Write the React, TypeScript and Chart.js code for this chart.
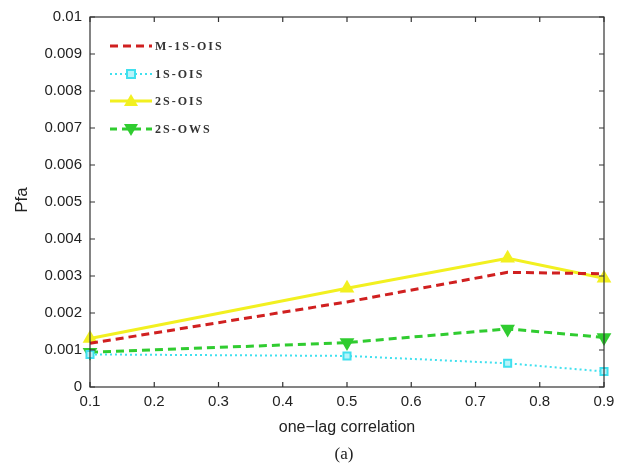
import React, { useEffect, useRef } from "react";
import { Chart, registerables } from "chart.js";

Chart.register(...registerables);

const xValues = [0.1, 0.5, 0.75, 0.9];
const m1sOis = [0.00118, 0.0023, 0.0031, 0.00306];
const s1Ois = [0.00088, 0.00084, 0.00064, 0.00042];
const s2Ois = [0.00131, 0.00267, 0.00348, 0.00294];
const s2Ows = [0.00094, 0.0012, 0.00157, 0.00134];

const xTicks = [0.1, 0.2, 0.3, 0.4, 0.5, 0.6, 0.7, 0.8, 0.9];
const xTickLabels = ["0.1", "0.2", "0.3", "0.4", "0.5", "0.6", "0.7", "0.8", "0.9"];
const yTicks = [0, 0.001, 0.002, 0.003, 0.004, 0.005, 0.006, 0.007, 0.008, 0.009, 0.01];
const yTickLabels = ["0", "0.001", "0.002", "0.003", "0.004", "0.005", "0.006", "0.007", "0.008", "0.009", "0.01"];

const seriesNames = ["M-1S-OIS", "1S-OIS", "2S-OIS", "2S-OWS"];
const xTitle = "one\u2212lag correlation";
const yTitle = "Pfa";
const caption = "(a)";

const RED = "#d02020";
const CYAN = "#40e0ee";
const YELLOW = "#f2f020";
const GREEN = "#30cc30";

const SANS = "'Liberation Sans', Arial, sans-serif";
const SERIF = "'Liberation Serif', 'Times New Roman', serif";

function drawMarker(ctx: CanvasRenderingContext2D, kind: string, x: number, y: number) {
  ctx.save();
  ctx.setLineDash([]);
  if (kind === "square") {
    ctx.fillStyle = "#b8f4fa";
    ctx.strokeStyle = CYAN;
    ctx.lineWidth = 2;
    ctx.fillRect(x - 4, y - 4, 8, 8);
    ctx.strokeRect(x - 4, y - 4, 8, 8);
  } else if (kind === "up") {
    ctx.fillStyle = YELLOW;
    ctx.beginPath();
    ctx.moveTo(x, y - 7);
    ctx.lineTo(x + 7, y + 5);
    ctx.lineTo(x - 7, y + 5);
    ctx.closePath();
    ctx.fill();
  } else if (kind === "down") {
    ctx.fillStyle = GREEN;
    ctx.beginPath();
    ctx.moveTo(x, y + 7);
    ctx.lineTo(x + 7, y - 5);
    ctx.lineTo(x - 7, y - 5);
    ctx.closePath();
    ctx.fill();
  }
  ctx.restore();
}

const decorPlugin = {
  id: "decor",
  afterDraw(chart: any) {
    const ctx: CanvasRenderingContext2D = chart.ctx;
    const a = chart.chartArea;
    const xs = chart.scales.x;
    const ys = chart.scales.y;
    ctx.save();
    ctx.strokeStyle = "#333";
    ctx.lineWidth = 1.2;
    ctx.setLineDash([]);
    ctx.strokeRect(a.left, a.top, a.right - a.left, a.bottom - a.top);
    ctx.beginPath();
    const tl = 5;
    xTicks.forEach((v) => {
      const px = xs.getPixelForValue(v);
      ctx.moveTo(px, a.bottom);
      ctx.lineTo(px, a.bottom - tl);
      ctx.moveTo(px, a.top);
      ctx.lineTo(px, a.top + tl);
    });
    yTicks.forEach((v) => {
      const py = ys.getPixelForValue(v);
      ctx.moveTo(a.left, py);
      ctx.lineTo(a.left + tl, py);
      ctx.moveTo(a.right, py);
      ctx.lineTo(a.right - tl, py);
    });
    ctx.stroke();

    ctx.fillStyle = "#222";
    ctx.font = `16px ${SANS}`;
    ctx.textAlign = "center";
    ctx.textBaseline = "middle";
    ctx.fillText(xTitle, (a.left + a.right) / 2, 428);
    ctx.save();
    ctx.translate(22, 200);
    ctx.rotate(-Math.PI / 2);
    ctx.font = `17px ${SANS}`;
    ctx.fillText(yTitle, 0, 0);
    ctx.restore();
    ctx.font = `17px ${SERIF}`;
    ctx.fillText(caption, 344, 455);

    const rows = [
      { y: 46, color: RED, dash: [8, 5], width: 3, marker: "" },
      { y: 74, color: CYAN, dash: [2, 3], width: 2, marker: "square" },
      { y: 101, color: YELLOW, dash: [], width: 3, marker: "up" },
      { y: 129, color: GREEN, dash: [7, 5], width: 3, marker: "down" },
    ];
    rows.forEach((r, i) => {
      ctx.save();
      ctx.strokeStyle = r.color;
      ctx.lineWidth = r.width;
      ctx.setLineDash(r.dash);
      ctx.beginPath();
      ctx.moveTo(110, r.y);
      ctx.lineTo(152, r.y);
      ctx.stroke();
      if (r.marker) drawMarker(ctx, r.marker, 131, r.y);
      ctx.restore();
      ctx.save();
      ctx.fillStyle = "#333";
      ctx.font = `bold 12px ${SERIF}`;
      (ctx as any).letterSpacing = "2px";
      ctx.textAlign = "left";
      ctx.textBaseline = "middle";
      ctx.fillText(seriesNames[i], 155, r.y + 1);
      ctx.restore();
    });
    ctx.restore();
  },
};

export default function App() {
  const ref = useRef<HTMLCanvasElement | null>(null);
  useEffect(() => {
    if (!ref.current) return;
    const mk = (arr: number[]) => xValues.map((x, i) => ({ x, y: arr[i] }));
    const chart = new Chart(ref.current, {
      type: "line",
      data: {
        datasets: [
          {
            label: seriesNames[0],
            data: mk(m1sOis),
            borderColor: RED,
            borderWidth: 3,
            borderDash: [8, 5],
            pointRadius: 0,
            fill: false,
            clip: false,
          },
          {
            label: seriesNames[1],
            data: mk(s1Ois),
            borderColor: CYAN,
            borderWidth: 2,
            borderDash: [2, 3],
            pointStyle: "rect",
            pointRadius: 5,
            pointBorderWidth: 2,
            pointBorderColor: CYAN,
            pointBackgroundColor: "#b8f4fa",
            fill: false,
            clip: false,
          },
          {
            label: seriesNames[2],
            data: mk(s2Ois),
            borderColor: YELLOW,
            borderWidth: 3,
            pointStyle: "triangle",
            pointRadius: 8.5,
            pointBorderWidth: 0,
            pointBackgroundColor: YELLOW,
            pointBorderColor: YELLOW,
            fill: false,
            clip: false,
          },
          {
            label: seriesNames[3],
            data: mk(s2Ows),
            borderColor: GREEN,
            borderWidth: 3,
            borderDash: [8, 5],
            pointStyle: "triangle",
            rotation: 180,
            pointRadius: 8.5,
            pointBorderWidth: 0,
            pointBackgroundColor: GREEN,
            pointBorderColor: GREEN,
            fill: false,
            clip: false,
          },
        ],
      },
      options: {
        responsive: false,
        animation: false,
        layout: { padding: { left: 0, right: 29, top: 13, bottom: 0 } },
        plugins: { legend: { display: false }, tooltip: { enabled: false } },
        scales: {
          x: {
            type: "linear",
            min: 0.1,
            max: 0.9,
            grid: { display: false, drawTicks: false },
            border: { display: false },
            afterBuildTicks: (s: any) => {
              s.ticks = xTicks.map((v) => ({ value: v }));
            },
            afterFit: (s: any) => {
              s.height = 83;
            },
            ticks: {
              padding: 6,
              color: "#222",
              font: { family: SANS, size: 15 },
              maxRotation: 0,
              autoSkip: false,
              callback: (v: any) => {
                const i = xTicks.findIndex((t) => Math.abs(t - v) < 1e-9);
                return i >= 0 ? xTickLabels[i] : "";
              },
            },
          },
          y: {
            type: "linear",
            min: 0,
            max: 0.01,
            grid: { display: false, drawTicks: false },
            border: { display: false },
            afterBuildTicks: (s: any) => {
              s.ticks = yTicks.map((v) => ({ value: v }));
            },
            afterFit: (s: any) => {
              s.width = 90;
            },
            ticks: {
              padding: 8,
              color: "#222",
              font: { family: SANS, size: 15 },
              autoSkip: false,
              callback: (v: any) => {
                const i = yTicks.findIndex((t) => Math.abs(t - v) < 1e-12);
                return i >= 0 ? yTickLabels[i] : "";
              },
            },
          },
        },
      },
      plugins: [decorPlugin],
    } as any);
    return () => chart.destroy();
  }, []);
  return (
    <div style={{ position: "absolute", left: 0, top: 0, width: 633, height: 470, background: "#fff" }}>
      <canvas ref={ref} width={633} height={470} style={{ display: "block" }} />
    </div>
  );
}
